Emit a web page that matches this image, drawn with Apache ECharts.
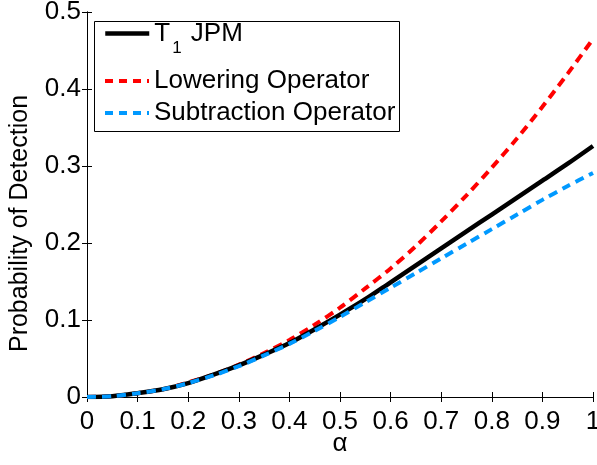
<!DOCTYPE html>
<html>
<head>
<meta charset="utf-8">
<script src="https://cdn.jsdelivr.net/npm/echarts@6/dist/echarts.min.js"></script>
<style>
html,body{margin:0;padding:0;background:#fff;}
#c{width:597px;height:465px;}
</style>
</head>
<body>
<div id="c"></div>
<script>
// alpha values (x)
var alpha = [0, 0.05, 0.1, 0.15, 0.2, 0.25, 0.3, 0.35, 0.4, 0.45, 0.5, 0.55, 0.6, 0.65, 0.7, 0.75, 0.8, 0.85, 0.9, 0.95, 1.0];
// T1 JPM (black solid)
var jpm = [0, 0.001, 0.005, 0.010, 0.018, 0.029, 0.041, 0.055, 0.070, 0.088, 0.107, 0.127, 0.149, 0.171, 0.193, 0.215, 0.237, 0.259, 0.281, 0.303, 0.326];
// Lowering Operator (red dashed)
var lowering = [0, 0.001, 0.005, 0.010, 0.019, 0.029, 0.042, 0.057, 0.074, 0.094, 0.116, 0.141, 0.167, 0.196, 0.228, 0.262, 0.298, 0.336, 0.377, 0.420, 0.465];
// Subtraction Operator (blue dashed)
var subtraction = [0, 0.001, 0.005, 0.010, 0.018, 0.028, 0.040, 0.054, 0.069, 0.086, 0.104, 0.123, 0.142, 0.161, 0.180, 0.199, 0.218, 0.237, 0.256, 0.274, 0.291];
var xTicks = [0, 0.1, 0.2, 0.3, 0.4, 0.5, 0.6, 0.7, 0.8, 0.9, 1];
var yTicks = [0, 0.1, 0.2, 0.3, 0.4, 0.5];

function pairs(ys){ return alpha.map(function(a,i){ return [a, ys[i]]; }); }
function fmt(v){ var r = Math.round(v*10)/10; return (r===0)?'0':(r===1?'1':r.toFixed(1)); }

var FONT = '"Liberation Sans", Arial, Helvetica, sans-serif';
var chart = echarts.init(document.getElementById('c'), null, {renderer:'canvas'});
var axisCommon = {
  axisLine:{show:true, lineStyle:{color:'#000', width:1}},
  axisTick:{show:true, inside:true, length:5, lineStyle:{color:'#000', width:1}},
  splitLine:{show:false}
};
var option = {
  animation:false,
  backgroundColor:'#fff',
  grid:{left:87, right:4, top:12, bottom:68, containLabel:false, outerBoundsMode:'none'},
  xAxis:[
    Object.assign({type:'value', position:'bottom', min:0, max:1, interval:0.1,
      axisLabel:{color:'#000', fontSize:26, fontFamily:FONT, margin:12, formatter:fmt},
      name:'α', nameLocation:'middle', nameGap:34, nameMoveOverlap:false,
      nameTextStyle:{color:'#000', fontSize:26, fontFamily:FONT}}, axisCommon),
    Object.assign({type:'value', position:'top', min:0, max:1, interval:0.1,
      axisLabel:{show:false}}, axisCommon)
  ],
  yAxis:[
    Object.assign({type:'value', position:'left', min:0, max:0.5, interval:0.1,
      axisLabel:{color:'#000', fontSize:26, fontFamily:FONT, margin:6, formatter:fmt},
      name:'Probability of Detection', nameLocation:'middle', nameGap:54, nameMoveOverlap:false,
      nameTextStyle:{color:'#000', fontSize:25, fontFamily:FONT, padding:[0,38,0,0]}}, axisCommon),
    Object.assign({type:'value', position:'right', min:0, max:0.5, interval:0.1,
      axisLabel:{show:false}}, axisCommon)
  ],
  graphic:[{
    type:'rect', left:94, top:21, z:50,
    shape:{width:305, height:110},
    style:{fill:'#fff', stroke:'#000', lineWidth:1}
  }],
  legend:[
    {data:['JPM'], left:103, top:20.5, padding:0, itemWidth:44, itemHeight:10, z:60,
     selectedMode:false,
     itemStyle:{opacity:0},
     lineStyle:{width:4.5},
     formatter:function(){ return '{a|T}{s|1}{a| JPM}'; },
     textStyle:{color:'#000', fontFamily:FONT, fontSize:26,
       rich:{a:{fontSize:26, lineHeight:26, fontFamily:FONT, color:'#000', padding:[0,0,19,0], verticalAlign:'top'},
             s:{fontSize:17, lineHeight:17, fontFamily:FONT, color:'#000', padding:[19,2,0,2], verticalAlign:'top'}}}},
    {data:['Lowering Operator'], left:103, top:66, padding:0, itemWidth:44, itemHeight:10, z:60,
     selectedMode:false, itemStyle:{opacity:0}, lineStyle:{width:4, type:[8,6]},
     textStyle:{color:'#000', fontFamily:FONT, fontSize:26, lineHeight:30}},
    {data:['Subtraction Operator'], left:103, top:98, padding:0, itemWidth:44, itemHeight:10, z:60,
     selectedMode:false, itemStyle:{opacity:0}, lineStyle:{width:4, type:[8,6]},
     textStyle:{color:'#000', fontFamily:FONT, fontSize:26, lineHeight:30}}
  ],
  series:[
    {name:'Lowering Operator', type:'line', data:pairs(lowering), showSymbol:false, symbol:'none', smooth:0.3,
     itemStyle:{color:'#ff0000'}, lineStyle:{color:'#ff0000', width:4, type:[9,6]}, z:2},
    {name:'JPM', type:'line', data:pairs(jpm), showSymbol:false, symbol:'none', smooth:0.3,
     itemStyle:{color:'#000'}, lineStyle:{color:'#000', width:4.5}, z:3},
    {name:'Subtraction Operator', type:'line', data:pairs(subtraction), showSymbol:false, symbol:'none', smooth:0.3,
     itemStyle:{color:'#0099ff'}, lineStyle:{color:'#0099ff', width:4, type:[9,6]}, z:4}
  ]
};
chart.setOption(option);
</script>
</body>
</html>
